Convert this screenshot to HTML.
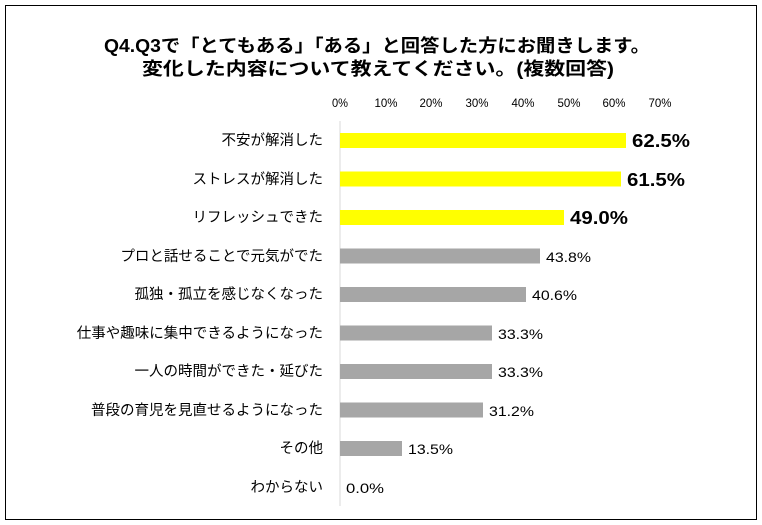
<!DOCTYPE html>
<html><head><meta charset="utf-8"><style>
body{margin:0;background:#fff;}
svg{display:block;font-family:"Liberation Sans","Noto Sans CJK JP",sans-serif;}
</style></head><body>
<svg width="762" height="525" xmlns="http://www.w3.org/2000/svg">
<rect x="5.5" y="5.5" width="751" height="514" fill="#fff" stroke="#000" stroke-width="1"/>
<text x="104" y="52" font-size="18" font-weight="bold" textLength="546" lengthAdjust="spacingAndGlyphs">Q4.Q3で「とてもある」「ある」と回答した方にお聞きします。</text>
<text x="142" y="75" font-size="18" font-weight="bold" textLength="472" lengthAdjust="spacingAndGlyphs">変化した内容について教えてください。(複数回答)</text>
<g font-size="12" text-anchor="middle" fill="#000">
<text x="340" y="107" textLength="16" lengthAdjust="spacingAndGlyphs">0%</text>
<text x="386" y="107" textLength="23" lengthAdjust="spacingAndGlyphs">10%</text>
<text x="431" y="107" textLength="23" lengthAdjust="spacingAndGlyphs">20%</text>
<text x="477" y="107" textLength="23" lengthAdjust="spacingAndGlyphs">30%</text>
<text x="523" y="107" textLength="23" lengthAdjust="spacingAndGlyphs">40%</text>
<text x="569" y="107" textLength="23" lengthAdjust="spacingAndGlyphs">50%</text>
<text x="614" y="107" textLength="23" lengthAdjust="spacingAndGlyphs">60%</text>
<text x="660" y="107" textLength="23" lengthAdjust="spacingAndGlyphs">70%</text>
</g>
<line x1="340" y1="121" x2="340" y2="506" stroke="#d9d9d9" stroke-width="1"/>
<g font-size="14.5" text-anchor="end">
<text x="323" y="145">不安が解消した</text>
<text x="323" y="184">ストレスが解消した</text>
<text x="323" y="222">リフレッシュできた</text>
<text x="323" y="261">プロと話せることで元気がでた</text>
<text x="323" y="299">孤独・孤立を感じなくなった</text>
<text x="323" y="338">仕事や趣味に集中できるようになった</text>
<text x="323" y="376">一人の時間ができた・延びた</text>
<text x="323" y="415">普段の育児を見直せるようになった</text>
<text x="323" y="453">その他</text>
<text x="323" y="492">わからない</text>
</g>
<g>
<rect x="340" y="133" width="286" height="15" fill="#ffff00"/>
<rect x="340" y="171.5" width="281" height="15" fill="#ffff00"/>
<rect x="340" y="210" width="224" height="15" fill="#ffff00"/>
<rect x="340" y="248.5" width="200" height="15" fill="#a6a6a6"/>
<rect x="340" y="287" width="186" height="15" fill="#a6a6a6"/>
<rect x="340" y="325.5" width="152" height="15" fill="#a6a6a6"/>
<rect x="340" y="364" width="152" height="15" fill="#a6a6a6"/>
<rect x="340" y="402.5" width="143" height="15" fill="#a6a6a6"/>
<rect x="340" y="441" width="62" height="15" fill="#a6a6a6"/>
</g>
<g font-size="18" font-weight="bold">
<text x="632" y="147" textLength="58" lengthAdjust="spacingAndGlyphs">62.5%</text>
<text x="627" y="186" textLength="58" lengthAdjust="spacingAndGlyphs">61.5%</text>
<text x="570" y="224" textLength="58" lengthAdjust="spacingAndGlyphs">49.0%</text>
</g>
<g font-size="14">
<text x="546" y="262" textLength="45" lengthAdjust="spacingAndGlyphs">43.8%</text>
<text x="532" y="300" textLength="45" lengthAdjust="spacingAndGlyphs">40.6%</text>
<text x="498" y="339" textLength="45" lengthAdjust="spacingAndGlyphs">33.3%</text>
<text x="498" y="377" textLength="45" lengthAdjust="spacingAndGlyphs">33.3%</text>
<text x="489" y="416" textLength="45" lengthAdjust="spacingAndGlyphs">31.2%</text>
<text x="408" y="454" textLength="45" lengthAdjust="spacingAndGlyphs">13.5%</text>
<text x="346" y="493" textLength="38" lengthAdjust="spacingAndGlyphs">0.0%</text>
</g>
</svg>
</body></html>
